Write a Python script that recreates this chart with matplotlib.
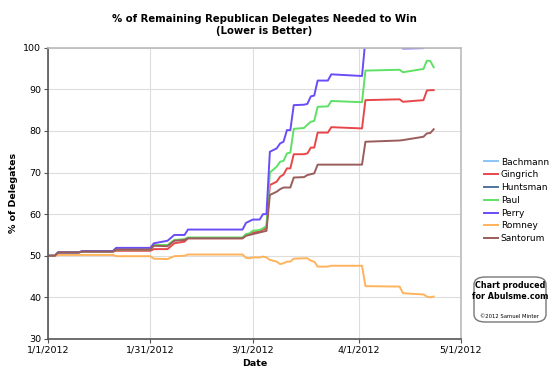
import numpy as np
import pandas as pd
import matplotlib
matplotlib.use("Agg")
from matplotlib import pyplot as plt
from matplotlib.patches import FancyBboxPatch

nan = np.nan

days = [0, 2, 3, 9, 10, 19, 20, 30, 31, 35, 37, 40, 41, 57, 58, 59, 60, 62, 63, 64,
        65, 67, 68, 69, 70, 71, 72, 75, 76, 77, 78, 79, 82, 83, 92, 93, 103, 104,
        110, 111, 112, 113]

bachmann = [50.0, 50.0, 50.8] + [nan] * 39
huntsman = [50.0, 50.0, 50.8, 50.8, 51.1, 51.1, 51.8] + [nan] * 35
gingrich = [50.0, 50.0, 50.8, 50.8, 51.0, 51.0, 51.2, 51.2, 51.6, 51.6, 53.0, 53.4, 54.2,
            54.2, 55.0, 55.2, 55.6, 55.8, 56.3, 56.6, 67.0, 67.8, 69.0, 69.5, 71.0, 71.0,
            74.4, 74.4, 74.6, 76.0, 76.0, 79.6, 79.6, 80.9, 80.6, 87.4, 87.6, 87.0, 87.4,
            89.7, 89.8, 89.8]
paul = [50.0, 50.0, 50.8, 50.8, 51.0, 51.0, 51.5, 51.5, 52.6, 52.6, 53.8, 54.0, 54.4,
        54.4, 55.2, 55.4, 56.0, 56.2, 56.6, 57.2, 70.0, 71.4, 72.6, 72.8, 74.6, 74.8,
        80.5, 80.7, 81.5, 82.2, 82.4, 85.8, 85.9, 87.2, 86.9, 94.5, 94.7, 94.1, 94.9,
        96.9, 96.8, 95.3]
perry = [50.0, 50.0, 50.8, 50.8, 51.1, 51.1, 51.9, 51.9, 53.0, 53.6, 55.0, 55.0, 56.3,
         56.3, 57.9, 58.3, 58.7, 58.7, 60.0, 60.0, 75.0, 75.8, 77.0, 77.4, 80.2, 80.2,
         86.2, 86.3, 86.5, 88.3, 88.5, 92.1, 92.1, 93.6, 93.2, 102.0, 101.0, 99.8, 99.9,
         101.0, 101.5, 101.0]
romney = [50.0, 50.0, 50.2, 50.2, 50.2, 50.2, 49.9, 49.9, 49.3, 49.2, 49.9, 50.0, 50.3,
          50.3, 49.5, 49.4, 49.6, 49.6, 49.8, 49.6, 49.0, 48.6, 48.0, 48.2, 48.6, 48.6,
          49.3, 49.4, 49.4, 48.8, 48.6, 47.4, 47.4, 47.6, 47.6, 42.7, 42.6, 41.0, 40.7,
          40.2, 40.0, 40.2]
santorum = [50.0, 50.0, 50.8, 50.8, 51.0, 51.0, 51.5, 51.5, 52.4, 52.3, 53.6, 53.8, 54.2,
            54.2, 54.8, 55.0, 55.2, 55.6, 55.8, 56.0, 64.6, 65.4, 66.0, 66.4, 66.4, 66.4,
            68.8, 68.9, 69.4, 69.6, 69.8, 71.9, 71.9, 71.9, 71.9, 77.4, 77.7, 77.8, 78.6,
            79.4, 79.5, 80.4]

names = ["Bachmann", "Gingrich", "Huntsman", "Paul", "Perry", "Romney", "Santorum"]
series = [bachmann, gingrich, huntsman, paul, perry, romney, santorum]
colors = ["#8cc4f7", "#e8474a", "#52739e", "#5fe066", "#6b4cf6", "#ffb35c", "#9b5c5c"]

tick_labels = ["1/1/2012", "1/31/2012", "3/1/2012", "4/1/2012", "5/1/2012"]

dates = pd.Timestamp("2012-01-01") + pd.to_timedelta(days, unit="D")
tick_dates = pd.to_datetime(tick_labels, format="%m/%d/%Y")

fig = plt.figure(figsize=(5.6, 3.81), dpi=100)
ax = fig.add_axes([48 / 560, 1 - 339 / 381, 413 / 560, (339 - 47.7) / 381])

for name, vals, c in zip(names, series, colors):
    ax.plot(dates, vals, color=c, lw=1.4, label=name)

ax.set_xlim(tick_dates[0], tick_dates[-1])
ax.set_ylim(30, 100)
ax.set_yticks(range(30, 101, 10))
ax.set_xticks(tick_dates)
ax.set_xticklabels(tick_labels)
ax.tick_params(labelsize=6.8, length=3, color="#555555", pad=2)
ax.grid(True, color="#dddddd", lw=0.8)
ax.set_axisbelow(True)
for s in ["left", "bottom"]:
    ax.spines[s].set_color("#555555")
    ax.spines[s].set_linewidth(1.2)
for s in ["top", "right"]:
    ax.spines[s].set_color("#bbbbbb")
    ax.spines[s].set_linewidth(1.2)

ax.set_xlabel("Date", fontsize=6.8, fontweight="bold", labelpad=3)
ax.set_ylabel("% of Delegates", fontsize=6.8, fontweight="bold", labelpad=4)

fig.text(264 / 560, 1 - 19 / 381, "% of Remaining Republican Delegates Needed to Win",
         ha="center", va="center", fontsize=7.3, fontweight="bold")
fig.text(264 / 560, 1 - 31 / 381, "(Lower is Better)",
         ha="center", va="center", fontsize=7.3, fontweight="bold")

ax.legend(loc="upper left", bbox_to_anchor=(479 / 560, 1 - 153 / 381),
          bbox_transform=fig.transFigure, frameon=False, fontsize=6.5,
          handlelength=1.6, handletextpad=0.3, labelspacing=0.42, borderpad=0)

box = FancyBboxPatch((474 / 560, 1 - 322 / 381), 72 / 560, 45 / 381,
                     boxstyle="round,pad=0,rounding_size=0.02", transform=fig.transFigure,
                     fc="white", ec="#777777", lw=1)
fig.patches.append(box)
fig.text(510 / 560, 1 - 286 / 381, "Chart produced", ha="center", va="center",
         fontsize=5.8, fontweight="bold")
fig.text(510 / 560, 1 - 296.5 / 381, "for Abulsme.com", ha="center", va="center",
         fontsize=5.8, fontweight="bold")
fig.text(510 / 560, 1 - 316 / 381, "\u00a92012 Samuel Minter", ha="center", va="center",
         fontsize=3.8)

plt.savefig("out.png", dpi=100)
